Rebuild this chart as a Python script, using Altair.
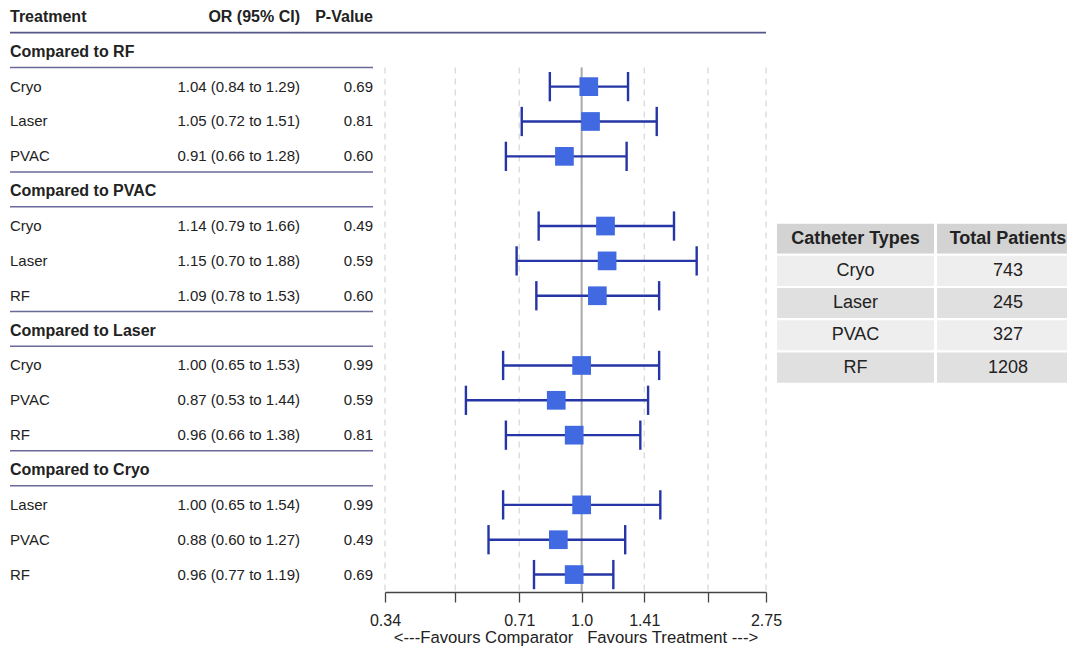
import altair as alt
import pandas as pd

# ---------------- data ----------------
sections = ["Compared to RF", "Compared to PVAC", "Compared to Laser", "Compared to Cryo"]
treatments = [["Cryo", "Laser", "PVAC"],
              ["Cryo", "Laser", "RF"],
              ["Cryo", "PVAC", "RF"],
              ["Laser", "PVAC", "RF"]]
odds = [1.04, 1.05, 0.91, 1.14, 1.15, 1.09, 1.00, 0.87, 0.96, 1.00, 0.88, 0.96]
ci_low = [0.84, 0.72, 0.66, 0.79, 0.70, 0.78, 0.65, 0.53, 0.66, 0.65, 0.60, 0.77]
ci_high = [1.29, 1.51, 1.28, 1.66, 1.88, 1.53, 1.53, 1.44, 1.38, 1.54, 1.27, 1.19]
p_values = ["0.69", "0.81", "0.60", "0.49", "0.59", "0.60", "0.99", "0.59", "0.81", "0.99", "0.49", "0.69"]
headers = ["Treatment", "OR (95% CI)", "P-Value"]
tick_values = [0.34, 0.5, 0.71, 1.0, 1.41, 2.0, 2.75]
tick_labels = ["0.34", "", "0.71", "1.0", "1.41", "", "2.75"]
axis_title = "<---Favours Comparator\u00a0\u00a0\u00a0Favours Treatment --->"
catheters = ["Cryo", "Laser", "PVAC", "RF"]
patients = [743, 245, 327, 1208]
table_headers = ["Catheter Types", "Total Patients"]

# ---------------- layout / style ----------------
FONT = "Liberation Sans"
W_LEFT, W_FOREST, W_TABLE, H = 377, 381, 302, 581
COL_NAME, COL_OR, COL_P, LINE_END = 2, 292, 365, 365
NAVY = "#2535a5"
ROYAL = "#4169E1"
LINE_COL = "#6a6a9a"
TXT = "#222222"

rec = []
k = 0
for s, sec in enumerate(sections):
    for i, t in enumerate(treatments[s]):
        rec.append(dict(row=4 * s + 1 + i, name=t, orv=odds[k], lo=ci_low[k], hi=ci_high[k],
                        ortxt=f"{odds[k]:.2f} ({ci_low[k]:.2f} to {ci_high[k]:.2f})", p=p_values[k]))
        k += 1
df = pd.DataFrame(rec)
sec_df = pd.DataFrame(dict(row=[4 * s for s in range(len(sections))], title=sections))
hdr_df = pd.DataFrame(dict(row=[-1] * 3, label=headers, x=[COL_NAME, COL_OR, COL_P]))

sec_lines = []
for s in range(len(sections)):
    sec_lines.append(dict(y=4 * s + 0.45, x1=COL_NAME, x2=LINE_END))
    if s > 0:
        sec_lines.append(dict(y=4 * s - 0.55, x1=COL_NAME, x2=LINE_END))
sec_lines_df = pd.DataFrame(sec_lines)

ys = alt.Scale(domain=[-1.17, 15.5], reverse=True, nice=False, zero=False)
xl = alt.Scale(domain=[0, W_LEFT], nice=False, zero=False)
xs = alt.Scale(type="log", domain=[0.34, 2.75], nice=False)


def Y(f):
    return alt.Y(f, scale=ys, axis=None)


def XL(f):
    return alt.X(f, scale=xl, axis=None)


# ---------------- left text table ----------------
base_l = alt.Chart(df)
name_t = base_l.mark_text(align="left", baseline="middle", fontSize=15, color=TXT).encode(
    x=XL("cx:Q"), y=Y("row:Q"), text="name:N").transform_calculate(cx=str(COL_NAME))
or_t = base_l.mark_text(align="right", baseline="middle", fontSize=15, color=TXT).encode(
    x=XL("cx:Q"), y=Y("row:Q"), text="ortxt:N").transform_calculate(cx=str(COL_OR))
p_t = base_l.mark_text(align="right", baseline="middle", fontSize=15, color=TXT).encode(
    x=XL("cx:Q"), y=Y("row:Q"), text="p:N").transform_calculate(cx=str(COL_P))
sec_t = alt.Chart(sec_df).mark_text(align="left", baseline="middle", fontSize=16,
                                    fontWeight="bold", color=TXT).encode(
    x=XL("cx:Q"), y=Y("row:Q"), text="title:N").transform_calculate(cx=str(COL_NAME))
hdr_left = alt.Chart(hdr_df.iloc[[0]]).mark_text(align="left", baseline="middle", fontSize=16,
                                                 fontWeight="bold", color=TXT).encode(
    x=XL("x:Q"), y=Y("row:Q"), text="label:N")
hdr_right = alt.Chart(hdr_df.iloc[1:]).mark_text(align="right", baseline="middle", fontSize=16,
                                                 fontWeight="bold", color=TXT).encode(
    x=XL("x:Q"), y=Y("row:Q"), text="label:N")
sec_l = alt.Chart(sec_lines_df).mark_rule(color=LINE_COL, strokeWidth=1.5).encode(
    x=XL("x1:Q"), x2="x2:Q", y=Y("y:Q"))
hdr_line_l = alt.Chart(pd.DataFrame(dict(y=[-0.55], x1=[COL_NAME], x2=[W_LEFT]))).mark_rule(
    color="#55558a", strokeWidth=1.6).encode(x=XL("x1:Q"), x2="x2:Q", y=Y("y:Q"))

left = alt.layer(sec_l, hdr_line_l, hdr_left, hdr_right, sec_t, name_t, or_t, p_t).properties(
    width=W_LEFT, height=H)

# ---------------- forest plot ----------------
label_expr = ""
for v, lab in zip(tick_values, tick_labels):
    label_expr += f"abs(datum.value - {v}) < 1e-6 ? '{lab}' : "
label_expr += "''"

x_axis = alt.Axis(values=tick_values, labelExpr=label_expr, tickSize=10, labelPadding=10,
                  title=axis_title, titlePadding=1, grid=False, domainColor="#444444",
                  tickColor="#444444", domainWidth=1.3, tickWidth=1.3, labelFontSize=16,
                  titleFontSize=16.7, titleFontWeight="normal", labelColor=TXT, titleColor=TXT,
                  labelOverlap=False, labelFlush=False, labelFont=FONT, titleFont=FONT)


def XF(f):
    return alt.X(f, scale=xs, axis=x_axis)


grid_df = pd.DataFrame(dict(v=tick_values, y1=[0.45] * len(tick_values), y2=[15.5] * len(tick_values)))
grid = alt.Chart(grid_df).mark_rule(color="#d9d9d9", strokeWidth=1.3, strokeDash=[6, 5]).encode(
    x=XF("v:Q"), y=Y("y1:Q"), y2="y2:Q")
ref = alt.Chart(pd.DataFrame(dict(v=[1.0], y1=[0.45], y2=[15.5]))).mark_rule(
    color="#aaaaaa", strokeWidth=2).encode(x=XF("v:Q"), y=Y("y1:Q"), y2="y2:Q")
hdr_line_f = alt.Chart(pd.DataFrame(dict(x1=[0.34], x2=[2.75], y=[-0.55]))).mark_rule(
    color="#55558a", strokeWidth=1.6).encode(x=XF("x1:Q"), x2="x2:Q", y=Y("y:Q"))
ci = alt.Chart(df).mark_rule(color=NAVY, strokeWidth=2.4).encode(
    x=XF("lo:Q"), x2="hi:Q", y=Y("row:Q"))
caps = alt.Chart(df).transform_fold(["lo", "hi"], as_=["k", "cv"]).transform_calculate(
    yt="datum.row - 0.42", yb="datum.row + 0.42").mark_rule(color=NAVY, strokeWidth=2.4).encode(
    x=XF("cv:Q"), y=Y("yt:Q"), y2="yb:Q")
sq = alt.Chart(df).mark_square(size=350, color=ROYAL, opacity=1).encode(
    x=XF("orv:Q"), y=Y("row:Q"))

forest = alt.layer(grid, ref, hdr_line_f, ci, caps, sq).properties(width=W_FOREST, height=H)

# ---------------- right table ----------------
tys = alt.Scale(domain=[-6.563, 11.455], reverse=True, nice=False, zero=False)
txs = alt.Scale(domain=[0, W_TABLE], nice=False, zero=False)
T0, C1_END, C2_TEXT = 10, 169, 242

cells = []
for c, h in enumerate(table_headers):
    cells.append(dict(r=0, x1=T0 if c == 0 else C1_END + 1, x2=C1_END if c == 0 else W_TABLE,
                      tx=(T0 + C1_END) / 2 if c == 0 else C2_TEXT, txt=h, kind="head"))
for i, (cat, n) in enumerate(zip(catheters, patients)):
    kind = "odd" if i % 2 == 0 else "even"
    cells.append(dict(r=i + 1, x1=T0, x2=C1_END, tx=(T0 + C1_END) / 2, txt=cat, kind=kind))
    cells.append(dict(r=i + 1, x1=C1_END + 1, x2=W_TABLE, tx=C2_TEXT, txt=str(n), kind=kind))
cells_df = pd.DataFrame(cells)
cells_df["r1"] = cells_df["r"]
cells_df["r2"] = cells_df["r"] + 1
cells_df["rm"] = cells_df["r"] + 0.5

rects = alt.Chart(cells_df).mark_rect(stroke="white", strokeWidth=2).encode(
    x=alt.X("x1:Q", scale=txs, axis=None), x2="x2:Q",
    y=alt.Y("r1:Q", scale=tys, axis=None), y2="r2:Q",
    fill=alt.Fill("kind:N", scale=alt.Scale(domain=["head", "odd", "even"],
                                            range=["#d3d3d3", "#eeeeee", "#e0e0e0"]), legend=None))
head_txt = alt.Chart(cells_df[cells_df.kind == "head"]).mark_text(
    align="center", baseline="middle", fontSize=18, fontWeight="bold", color=TXT).encode(
    x=alt.X("tx:Q", scale=txs, axis=None), y=alt.Y("rm:Q", scale=tys, axis=None), text="txt:N")
body_txt = alt.Chart(cells_df[cells_df.kind != "head"]).mark_text(
    align="center", baseline="middle", fontSize=18, color=TXT).encode(
    x=alt.X("tx:Q", scale=txs, axis=None), y=alt.Y("rm:Q", scale=tys, axis=None), text="txt:N")

table = alt.layer(rects, head_txt, body_txt).properties(width=W_TABLE, height=H)

chart = alt.hconcat(left, forest, table, spacing=0, bounds="flush").properties(
    padding={"left": 0, "top": 0, "right": 0, "bottom": 0}).configure(
    font=FONT).configure_view(stroke=None)

chart.save("out.html", embed_options={"renderer": "svg", "actions": False})
